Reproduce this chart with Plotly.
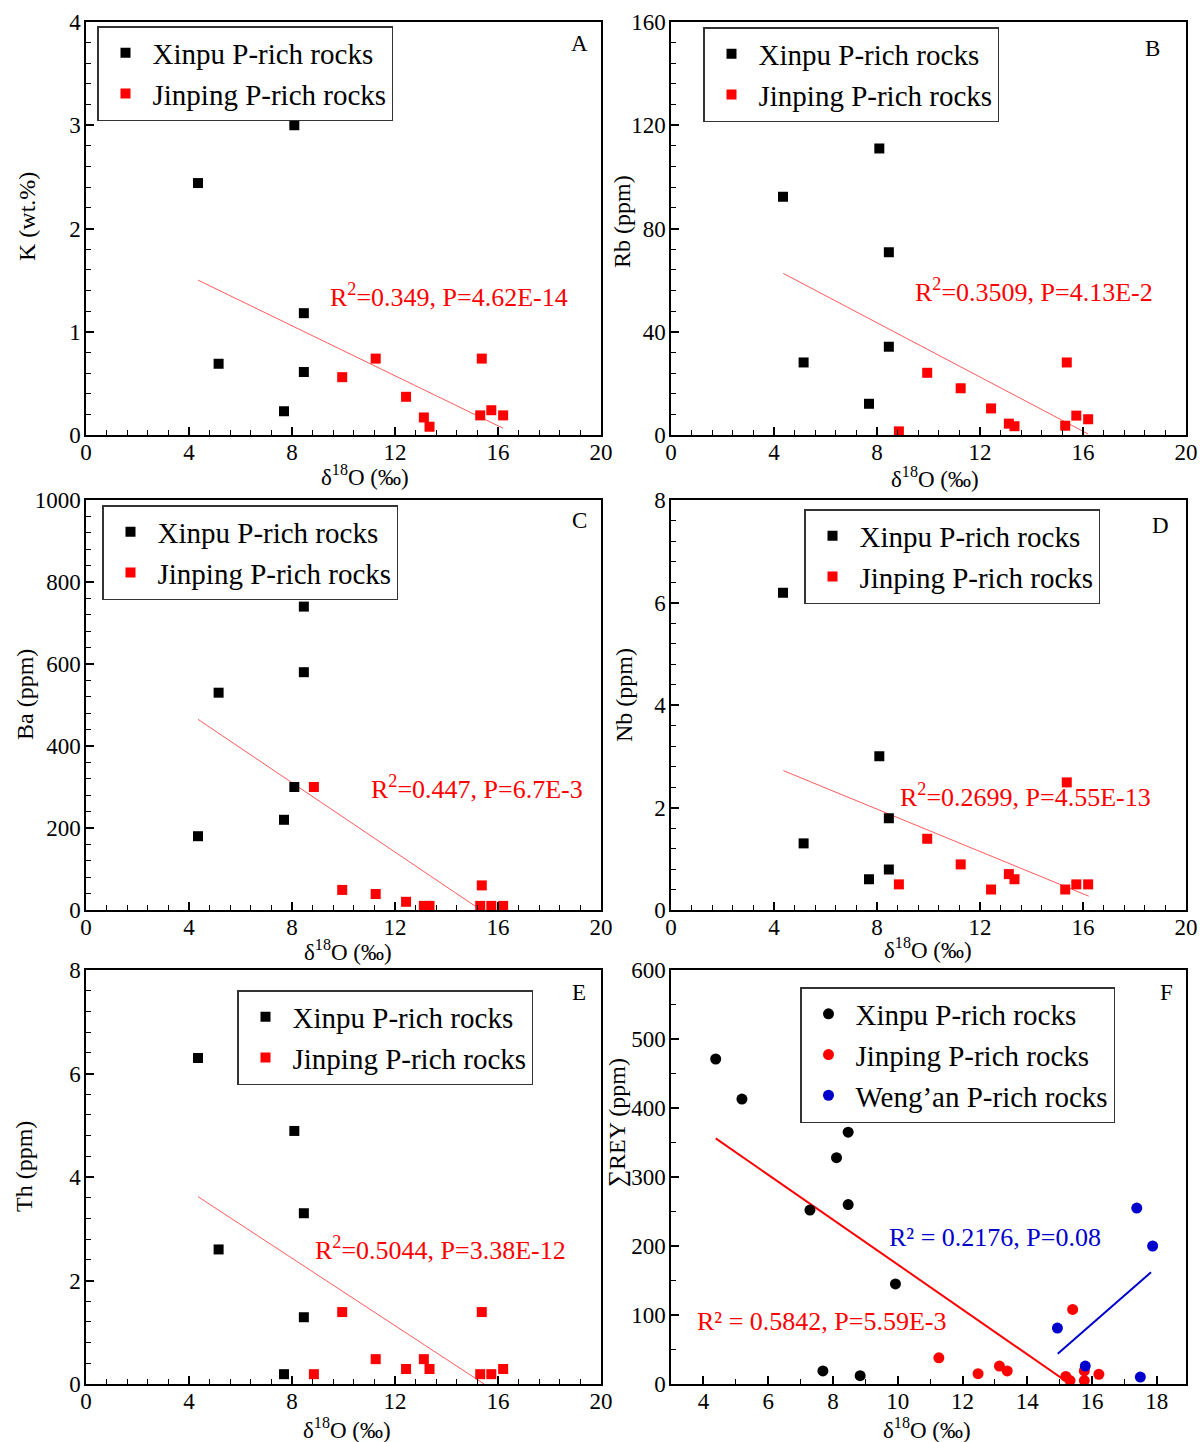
import plotly.graph_objects as go

# ---------------- data ----------------
xinpu_d18O = [4.35, 5.15, 7.69, 8.09, 8.46, 8.46]
jinping_d18O = [8.85, 9.95, 11.25, 12.43, 13.12, 13.34, 15.31, 15.37, 15.74, 16.2]

xinpu_K = [2.44, 0.69, 0.23, 3.0, 1.18, 0.61]
jinping_K = [None, 0.56, 0.74, 0.37, 0.17, 0.08, 0.19, 0.74, 0.24, 0.19]
xinpu_Rb = [92.3, 28.1, 12.1, 111, 70.8, 34.2]
jinping_Rb = [1.4, 24.1, 18.1, 10.3, 4.4, 3.4, 3.6, 28.1, 7.5, 6.1]
xinpu_Ba = [180, 530, 220, 300, 740, 580]
jinping_Ba = [300, 49, 39, 20, 10, 10, 10, 60, 10, 10]
xinpu_Nb = [6.19, 1.30, 0.6, 3.0, 1.79, 0.79]
jinping_Nb = [0.5, 1.39, 0.89, 0.4, 0.7, 0.6, 0.4, 2.49, 0.5, 0.5]
xinpu_Th = [6.3, 2.6, 0.19, 4.89, 3.30, 1.29]
jinping_Th = [0.19, 1.39, 0.48, 0.29, 0.48, 0.29, 0.19, 1.39, 0.19, 0.29]

xinpu_F_d18O = [4.38, 5.19, 7.29, 7.69, 8.11, 8.47, 8.47, 8.84, 9.93]
xinpu_REY = [471, 413, 252, 19, 328, 365, 260, 12, 145]
jinping_F_d18O = [11.27, 12.48, 13.14, 13.38, 15.19, 15.32, 15.4, 15.76, 15.76, 16.21]
jinping_REY = [38, 15, 26, 19, 11, 5, 108, 19, 5, 14]
wengan_d18O = [14.93, 15.79, 17.38, 17.49, 17.87]
wengan_REY = [81, 26, 255, 10, 200]

# regression lines (end points)
fit_x_A, fit_y_A = [4.35, 16.2], [1.50, 0.065]
fit_x_B, fit_y_B = [4.36, 16.2], [62.6, 0.4]
fit_x_C, fit_y_C = [4.35, 15.1], [465, 10]
fit_x_D, fit_y_D = [4.36, 16.22], [2.72, 0.27]
fit_x_E, fit_y_E = [4.35, 15.46], [3.62, 0.0]
fit_x_F_red, fit_y_F_red = [4.38, 15.32], [356, 0]
fit_x_F_blue, fit_y_F_blue = [14.94, 17.82], [44, 162]

stats_text = ["R<sup>2</sup>=0.349, P=4.62E-14", "R<sup>2</sup>=0.3509, P=4.13E-2",
              "R<sup>2</sup>=0.447, P=6.7E-3", "R<sup>2</sup>=0.2699, P=4.55E-13",
              "R<sup>2</sup>=0.5044, P=3.38E-12"]
x_title = "δ<sup>18</sup>O (‰)"
y_titles = ["K (wt.%)", "Rb (ppm)", "Ba (ppm)", "Nb (ppm)", "Th (ppm)", "∑REY (ppm)"]
panel_letters = ["A", "B", "C", "D", "E", "F"]
series_names = ["Xinpu P-rich rocks", "Jinping P-rich rocks", "Weng’an P-rich rocks"]

# ---------------- styling / layout ----------------
FONT = "Liberation Serif"
RED = "#ff0000"
BLUE = "#0000cc"
W, H = 1200, 1442

col_x = [(86, 601), (671, 1186)]
row_y = [(22, 435), (500, 910), (970, 1384)]

# pixel positions of axis titles (centre) and legend boxes
xtitle_pos = [(365, 475), (935, 477), (348, 950), (928, 948), (347, 1428), (927, 1428)]
ytitle_pos = [(27, 217), (622, 222), (25, 695), (624, 695), (24, 1167), (617, 1123)]
legend_pos = [(97, 26), (703, 27), (102, 505), (804, 509), (237, 990), (800, 987)]


def xdom(c):
    a, b = col_x[c]
    return [a / W, b / W]


def ydom(r):
    a, b = row_y[r]
    return [1 - b / H, 1 - a / H]


fig = go.Figure()
layout = {}

panels = [
    dict(xv=xinpu_K, jv=jinping_K, fx=fit_x_A, fy=fit_y_A, yr=[0, 4], dt=1, mdt=0.2,
         ann=(14.1, 1.35), lab=(19.15, 3.79)),
    dict(xv=xinpu_Rb, jv=jinping_Rb, fx=fit_x_B, fy=fit_y_B, yr=[0, 160], dt=40, mdt=8,
         ann=(14.1, 55.8), lab=(18.7, 149.6)),
    dict(xv=xinpu_Ba, jv=jinping_Ba, fx=fit_x_C, fy=fit_y_C, yr=[0, 1000], dt=200, mdt=40,
         ann=(15.2, 300), lab=(19.15, 949)),
    dict(xv=xinpu_Nb, jv=jinping_Nb, fx=fit_x_D, fy=fit_y_D, yr=[0, 8], dt=2, mdt=0.4,
         ann=(13.75, 2.24), lab=(19.0, 7.51)),
    dict(xv=xinpu_Th, jv=jinping_Th, fx=fit_x_E, fy=fit_y_E, yr=[0, 8], dt=2, mdt=0.4,
         ann=(13.75, 2.62), lab=(19.15, 7.56)),
]

annotations = []
axis_common = dict(showline=True, linecolor="black", linewidth=1.5, mirror=True,
                   ticks="inside", ticklen=8, tickwidth=1.5, tickcolor="black",
                   showgrid=False, zeroline=False, automargin=False,
                   tickfont=dict(family=FONT, size=23, color="black"))


def legend_cfg(px, py):
    return dict(x=px / W, y=1 - py / H, xanchor="left", yanchor="top",
                xref="paper", yref="paper",
                bgcolor="white", bordercolor="#333333", borderwidth=1.5,
                font=dict(family=FONT, size=29, color="black"),
                itemwidth=44, tracegroupgap=0)


for i in range(6):
    r, c = divmod(i, 2)
    n = "" if i == 0 else str(i + 1)
    xa, ya = "x" + n, "y" + n
    legname = "legend" + ("" if i == 0 else str(i + 1))
    if i < 5:
        p = panels[i]
        fig.add_trace(go.Scatter(x=p["fx"], y=p["fy"], mode="lines", xaxis=xa, yaxis=ya,
                                 line=dict(color="#ff5a5a", width=1), showlegend=False,
                                 legend=legname))
        fig.add_trace(go.Scatter(x=xinpu_d18O, y=p["xv"], mode="markers", name=series_names[0],
                                 xaxis=xa, yaxis=ya, legend=legname,
                                 marker=dict(symbol="square", size=10, color="black")))
        fig.add_trace(go.Scatter(x=jinping_d18O, y=p["jv"], mode="markers", name=series_names[1],
                                 xaxis=xa, yaxis=ya, legend=legname,
                                 marker=dict(symbol="square", size=10, color=RED)))
        xrange = [0, 20]
        xt = dict(tick0=0, dtick=4, minor=dict(ticks="inside", ticklen=5, tickwidth=1.2,
                                               tickcolor="black", dtick=0.8, tick0=0))
        yt = dict(range=p["yr"], tick0=0, dtick=p["dt"],
                  minor=dict(ticks="inside", ticklen=5, tickwidth=1.2, tickcolor="black",
                             dtick=p["mdt"], tick0=0))
        annotations.append(dict(x=p["ann"][0], y=p["ann"][1], xref=xa, yref=ya, text=stats_text[i],
                                showarrow=False, font=dict(family=FONT, size=26, color=RED)))
        annotations.append(dict(x=p["lab"][0], y=p["lab"][1], xref=xa, yref=ya, text=panel_letters[i],
                                showarrow=False, font=dict(family=FONT, size=23, color="black")))
    else:
        fig.add_trace(go.Scatter(x=fit_x_F_red, y=fit_y_F_red, mode="lines", xaxis=xa, yaxis=ya,
                                 line=dict(color=RED, width=2), showlegend=False, legend=legname))
        fig.add_trace(go.Scatter(x=fit_x_F_blue, y=fit_y_F_blue, mode="lines", xaxis=xa, yaxis=ya,
                                 line=dict(color=BLUE, width=2), showlegend=False, legend=legname))
        fig.add_trace(go.Scatter(x=xinpu_F_d18O, y=xinpu_REY, mode="markers", name=series_names[0],
                                 xaxis=xa, yaxis=ya, legend=legname,
                                 marker=dict(symbol="circle", size=11, color="black")))
        fig.add_trace(go.Scatter(x=jinping_F_d18O, y=jinping_REY, mode="markers", name=series_names[1],
                                 xaxis=xa, yaxis=ya, legend=legname,
                                 marker=dict(symbol="circle", size=11, color=RED)))
        fig.add_trace(go.Scatter(x=wengan_d18O, y=wengan_REY, mode="markers", name=series_names[2],
                                 xaxis=xa, yaxis=ya, legend=legname,
                                 marker=dict(symbol="circle", size=11, color=BLUE)))
        xrange = [3, 18.9]
        xt = dict(tick0=4, dtick=2, minor=dict(ticks="inside", ticklen=5, tickwidth=1.2,
                                               tickcolor="black", dtick=1, tick0=3))
        yt = dict(range=[0, 600], tick0=0, dtick=100,
                  minor=dict(ticks="inside", ticklen=5, tickwidth=1.2, tickcolor="black",
                             dtick=50, tick0=0))
        annotations.append(dict(x=7.66, y=91, xref=xa, yref=ya, text="R² = 0.5842, P=5.59E-3",
                                showarrow=False, font=dict(family=FONT, size=26, color=RED)))
        annotations.append(dict(x=13.0, y=212, xref=xa, yref=ya, text="R² = 0.2176, P=0.08",
                                showarrow=False, font=dict(family=FONT, size=26, color=BLUE)))
        annotations.append(dict(x=18.3, y=567, xref=xa, yref=ya, text="F",
                                showarrow=False, font=dict(family=FONT, size=23, color="black")))

    layout[legname] = legend_cfg(*legend_pos[i])

    # axis titles as paper-positioned text
    tx, ty = xtitle_pos[i]
    annotations.append(dict(x=tx / W, y=1 - ty / H, xref="paper", yref="paper", text=x_title,
                            showarrow=False, xanchor="center", yanchor="middle",
                            font=dict(family=FONT, size=23, color="black")))
    tx, ty = ytitle_pos[i]
    annotations.append(dict(x=tx / W, y=1 - ty / H, xref="paper", yref="paper", text=y_titles[i],
                            showarrow=False, xanchor="center", yanchor="middle", textangle=-90,
                            font=dict(family=FONT, size=24, color="black")))

    xkey = "xaxis" + n
    ykey = "yaxis" + n
    layout[xkey] = dict(axis_common, domain=xdom(c), range=xrange, anchor=ya,
                        ticklabelstandoff=-4, **xt)
    layout[ykey] = dict(axis_common, domain=ydom(r), anchor=xa, ticklabelstandoff=-1, **yt)

fig.update_layout(width=W, height=H, margin=dict(l=0, r=0, t=0, b=0),
                  paper_bgcolor="white", plot_bgcolor="white",
                  annotations=annotations, **layout)

fig.write_html("out.html")
